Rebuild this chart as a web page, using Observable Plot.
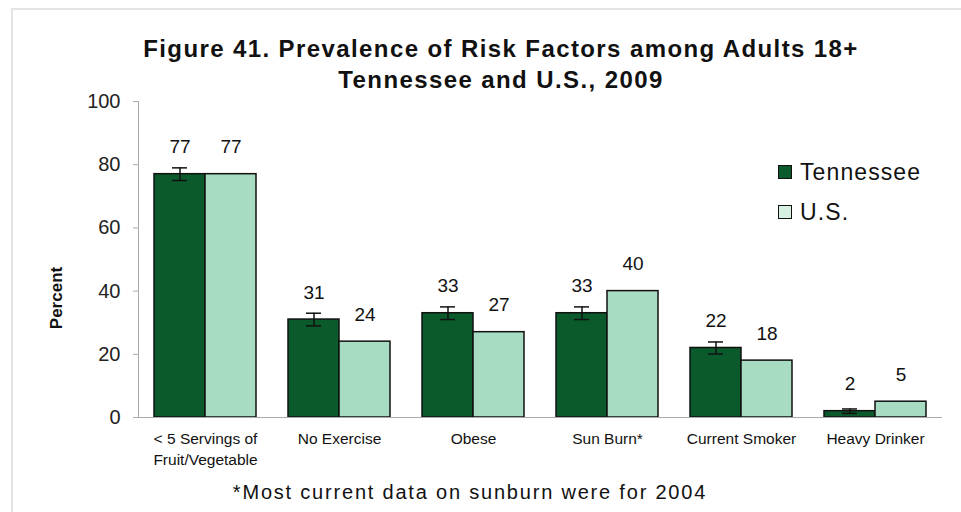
<!DOCTYPE html>
<html>
<head>
<meta charset="utf-8">
<script src="https://cdn.jsdelivr.net/npm/d3@7"></script>
<script src="https://cdn.jsdelivr.net/npm/@observablehq/plot@0.6"></script>
<style>
  html, body { margin: 0; padding: 0; background: #fff; }
  #wrap { position: relative; width: 961px; height: 512px; overflow: hidden; font-family: "Liberation Sans", Arial, sans-serif; color: #111; }
  #frame { position: absolute; left: 11px; top: 8px; width: 960px; height: 510px; border-left: 2px solid #e4e4e4; border-top: 2px solid #e4e4e4; }
  #title { position: absolute; left: 0; width: 1002px; top: 33px; text-align: center; font-weight: bold; font-size: 24px; line-height: 31px; letter-spacing: 1.4px; }
  #chart { position: absolute; left: 0; top: 88px; }
  #legend { position: absolute; left: 778px; top: 152px; font-size: 23px; letter-spacing: 1.1px; }
  .li { display: flex; align-items: center; height: 40px; }
  .sw { width: 12px; height: 12px; border: 1.5px solid #111; margin-right: 8px; }
  #note { position: absolute; left: 0; width: 940px; top: 481px; text-align: center; font-size: 20px; letter-spacing: 1.8px; }
</style>
</head>
<body>
<div id="wrap">
  <div id="frame"></div>
  <div id="title">Figure 41. Prevalence of Risk Factors among Adults 18+<br>Tennessee and U.S., 2009</div>
  <div id="chart"></div>
  <div id="legend"></div>
  <div id="note">*Most current data on sunburn were for 2004</div>
</div>
<script>
const categories = ["< 5 Servings of\nFruit/Vegetable", "No Exercise", "Obese", "Sun Burn*", "Current Smoker", "Heavy Drinker"];
const series = ["Tennessee", "U.S."];
const tennessee = [77, 31, 33, 33, 22, 2];
const us = [77, 24, 27, 40, 18, 5];
const tennesseeErr = [2.0, 2.0, 2.0, 2.0, 1.9, 0.7];
const colors = ["#0b5a2c", "#a8dcc2"];
const yTicks = [0, 20, 40, 60, 80, 100];

const rows = [];
categories.forEach((c, i) => {
  rows.push({cat: c, s: "Tennessee", v: tennessee[i], err: tennesseeErr[i]});
  rows.push({cat: c, s: "U.S.", v: us[i]});
});
const errRows = rows.filter(d => d.err != null);

const chart = Plot.plot({
  width: 961,
  height: 385,
  marginTop: 13,
  marginBottom: 56,
  marginLeft: 136,
  marginRight: 18,
  style: {fontFamily: "Liberation Sans, Arial, sans-serif", color: "#111", background: "transparent"},
  fx: {domain: categories, padding: 0, label: null},
  x: {domain: series, paddingInner: 0, paddingOuter: 0.29, axis: null},
  y: {domain: [0, 100], ticks: yTicks, label: null},
  color: {domain: series, range: colors},
  marks: [
    Plot.axisFx({anchor: "bottom", tickSize: 0, tickPadding: 12, fontSize: 15.5, lineHeight: 1.35, label: null}),
    Plot.axisY({ticks: yTicks, tickSize: 5, tickPadding: 13, fontSize: 20, stroke: "#aaa", color: "#222", label: null}),
    Plot.frame({anchor: "left", facetAnchor: "left", stroke: "#aaa"}),
    Plot.barY(rows, {fx: "cat", x: "s", y: "v", fill: "s", stroke: "#111", strokeWidth: 1.5}),
    Plot.ruleX(errRows, {fx: "cat", x: "s", y1: d => d.v - d.err, y2: d => d.v + d.err, stroke: "#111", strokeWidth: 1.5}),
    Plot.tickY(errRows, {fx: "cat", x: "s", y: d => d.v - d.err, stroke: "#111", strokeWidth: 1.5, insetLeft: 18, insetRight: 18}),
    Plot.tickY(errRows, {fx: "cat", x: "s", y: d => d.v + d.err, stroke: "#111", strokeWidth: 1.5, insetLeft: 18, insetRight: 18}),
    Plot.text(rows, {fx: "cat", x: "s", y: "v", text: d => String(d.v), dy: -27, fontSize: 19, fill: "#111"}),
    Plot.ruleY([0], {stroke: "#aaa"})
  ]
});
document.getElementById("chart").appendChild(chart);

// y-axis title
const svg = d3.select(chart);
svg.append("text")
  .attr("transform", "translate(58,210) rotate(-90)")
  .attr("text-anchor", "middle")
  .attr("dominant-baseline", "middle")
  .attr("font-size", 17)
  .attr("font-weight", "bold")
  .attr("fill", "#111")
  .text("Percent");

const legend = document.getElementById("legend");
series.forEach((s, i) => {
  const row = document.createElement("div");
  row.className = "li";
  const sw = document.createElement("span");
  sw.className = "sw";
  sw.style.background = i === 0 ? colors[0] : "#d6f0e2";
  const t = document.createElement("span");
  t.textContent = s;
  row.appendChild(sw); row.appendChild(t);
  legend.appendChild(row);
});
</script>
</body>
</html>
